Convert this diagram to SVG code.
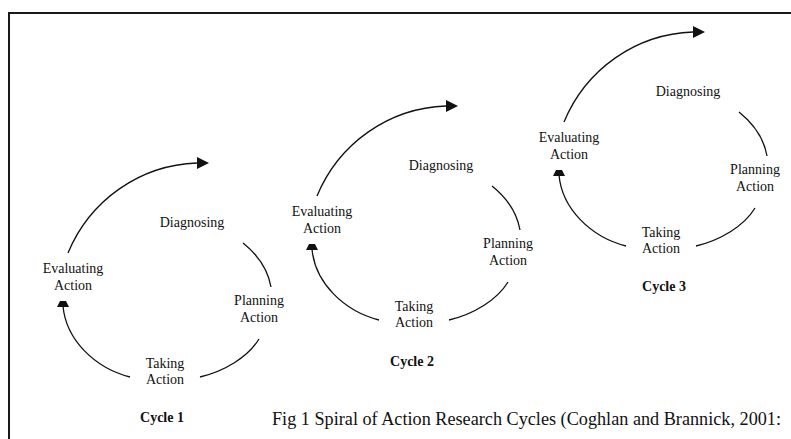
<svg xmlns="http://www.w3.org/2000/svg" width="791" height="439" viewBox="0 0 791 439">
<defs>
<style>
.t{font-family:"Liberation Serif","Times New Roman",serif;font-size:14px;fill:#111;text-anchor:middle}
.b{font-family:"Liberation Serif","Times New Roman",serif;font-size:14px;font-weight:bold;fill:#111;text-anchor:middle}
.c{font-family:"Liberation Serif","Times New Roman",serif;font-size:18px;fill:#111}
.a{fill:none;stroke:#111;stroke-width:1.3}
.h{fill:#111;stroke:none}
</style>
<g id="cycle">
<path class="a" d="M68,253 C90,200 140,165 197,163"/>
<path class="h" d="M197,157 L209,163 L197,169 Z"/>
<path class="a" d="M243,243 C258,255 268,270 271,287"/>
<path class="a" d="M200,377 C225,371 248,357 259,339"/>
<path class="a" d="M130,377 C95,368 66,340 63,306"/>
<path class="h" d="M57,307 L60,301 L66,301 L69,307 Z"/>
</g>
</defs>
<rect width="791" height="439" fill="#fff"/>
<path d="M9,439 L9,13 L791,13" fill="none" stroke="#1a1a1a" stroke-width="2"/>
<g id="connectors">
<use href="#cycle"/>
<use href="#cycle" transform="translate(249,-57)"/>
<use href="#cycle" transform="translate(496,-131)"/>
</g>
<g id="cycle1">
<text class="t" x="192" y="227">Diagnosing</text>
<text class="t" x="259" y="305">Planning</text>
<text class="t" x="259" y="322">Action</text>
<text class="t" x="165" y="368">Taking</text>
<text class="t" x="165" y="384">Action</text>
<text class="t" x="73" y="273">Evaluating</text>
<text class="t" x="73" y="290">Action</text>
<text class="b" x="162" y="422">Cycle 1</text>
</g>
<g id="cycle2">
<text class="t" x="441" y="170">Diagnosing</text>
<text class="t" x="508" y="248">Planning</text>
<text class="t" x="508" y="265">Action</text>
<text class="t" x="414" y="311">Taking</text>
<text class="t" x="414" y="327">Action</text>
<text class="t" x="322" y="216">Evaluating</text>
<text class="t" x="322" y="233">Action</text>
<text class="b" x="412" y="366">Cycle 2</text>
</g>
<g id="cycle3">
<text class="t" x="688" y="96">Diagnosing</text>
<text class="t" x="755" y="174">Planning</text>
<text class="t" x="755" y="191">Action</text>
<text class="t" x="661" y="237">Taking</text>
<text class="t" x="661" y="253">Action</text>
<text class="t" x="569" y="142">Evaluating</text>
<text class="t" x="569" y="159">Action</text>
<text class="b" x="664" y="291">Cycle 3</text>
</g>
<g id="caption">
<text class="c" x="272" y="425" textLength="509" lengthAdjust="spacingAndGlyphs">Fig 1 Spiral of Action Research Cycles (Coghlan and Brannick, 2001:</text>
</g>
</svg>
